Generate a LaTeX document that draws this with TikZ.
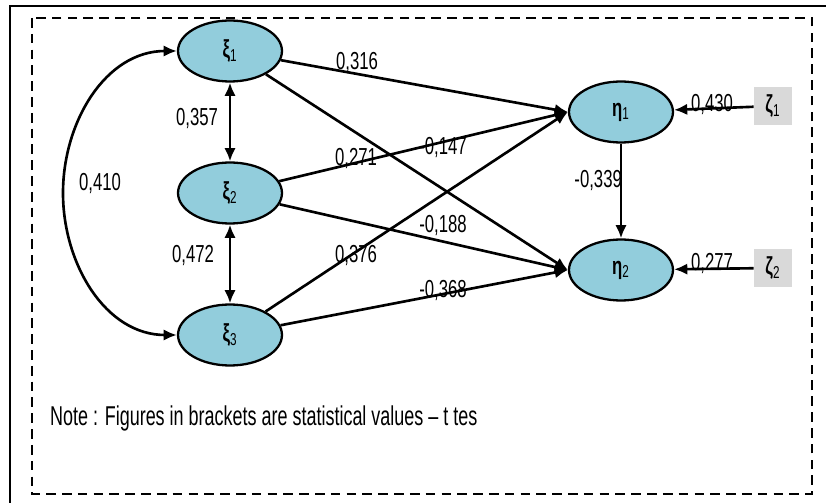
\documentclass[tikz,border=0pt]{standalone}
\usepackage{fontspec}
\setmainfont{Liberation Sans}[FakeStretch=0.68]
\newfontfamily\notefont{Liberation Sans}[FakeStretch=0.66]
\usetikzlibrary{arrows.meta,positioning}
\usetikzlibrary{shapes.geometric}

\definecolor{latent}{RGB}{146,205,220}
\definecolor{errbox}{RGB}{217,217,217}

\begin{document}
\begin{tikzpicture}[
    x=0.02cm, y=-0.02cm,
    >={Latex[length=7.5pt, width=6.5pt]},
    font=\fontsize{14}{16}\selectfont,
    % latent variables
    lat/.style={ellipse, draw, line width=1.3pt, fill=latent, minimum width=2.08cm, minimum height=1.22cm, inner sep=0pt},
    % error terms
    err/.style={rectangle, fill=errbox, minimum width=0.76cm, minimum height=0.78cm, inner sep=0pt},
    path/.style={->, line width=1.5pt},
    coef/.style={inner sep=1pt},
]
    % --- frame ---
    \useasboundingbox (0,0) rectangle (826,503);
    \draw[line width=1.3pt] (10,520) -- (10,6) -- (840,6);
    \draw[line width=1.6pt, dash pattern=on 5.5pt off 3.5pt] (32,18) rectangle (812,494);

    % --- 1. exogenous ---
    \node[lat] (xi1) at (230,51)  {\textbf{ξ}\textsubscript{1}};
    \node[lat] (xi2) at (230,193) {\textbf{ξ}\textsubscript{2}};
    \node[lat] (xi3) at (230,335) {\textbf{ξ}\textsubscript{3}};

    % --- 2. endogenous ---
    \node[lat] (eta1) at (621,112) {\textbf{η}\textsubscript{1}};
    \node[lat] (eta2) at (621,270) {\textbf{η}\textsubscript{2}};

    % --- 3. disturbances ---
    \node[err] (zeta1) at (773,106) {\textbf{ζ}\textsubscript{1}};
    \node[err] (zeta2) at (773,268) {\textbf{ζ}\textsubscript{2}};

    % --- 4. correlations ---
    \draw[<->, line width=1.5pt] (xi1) -- (xi2);
    \draw[<->, line width=1.5pt] (xi2) -- (xi3);
    \draw[<->, line width=1.5pt] (xi1.west) to[out=180, in=90] (63,193) to[out=-90, in=180] (xi3.west);

    \node[coef] (r12) at (197,118) {0,357};
    \node[coef] (r23) at (193,255) {0,472};
    \node[coef] (r13) at (100,183) {0,410};

    % --- 5. structural paths ---
    \draw[path] (xi1) -- (eta1.west);
    \draw[path] (xi1) -- (eta2.west);
    \draw[path] (xi2) -- (eta1.west);
    \draw[path] (xi2) -- (eta2.west);
    \draw[path] (xi3) -- (eta1.west);
    \draw[path] (xi3) -- (eta2.west);
    \draw[path] (eta1) -- (eta2);
    \draw[path] (zeta1) -- (eta1);
    \draw[path] (zeta2) -- (eta2);

    \node[coef] (b11) at (357,62)  {0,316};
    \node[coef] (b21) at (356,158) {0,271};
    \node[coef] (b12) at (443,147) {-0,147};
    \node[coef] (b31) at (356,255) {0,376};
    \node[coef] (b22) at (443,225) {-0,188};
    \node[coef] (b32) at (443,290) {-0,368};
    \node[coef, anchor=east] (g12) at (624,180) {-0,339};
    \node[coef] (z1) at (712,104) {0,430};
    \node[coef] (z2) at (712,263) {0,277};

    % --- 6. note ---
    \node[anchor=west, font=\notefont\fontsize{15.5}{18}\selectfont] (note) at (44,418) {Note : Figures in brackets are statistical values – t tes};
\end{tikzpicture}
\end{document}
